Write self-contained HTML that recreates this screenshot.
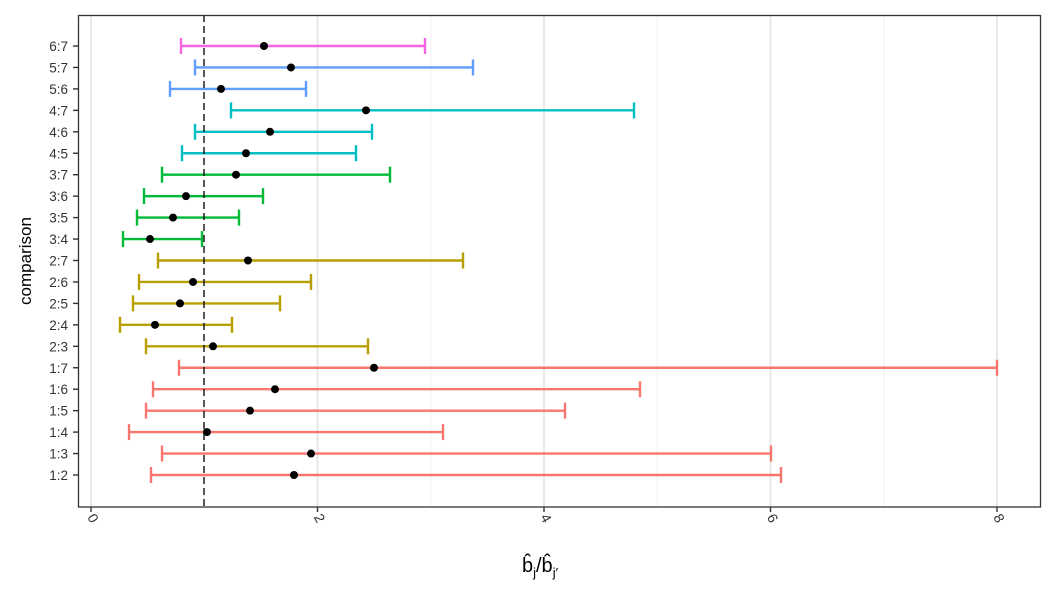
<!DOCTYPE html>
<html><head><meta charset="utf-8"><style>
body{margin:0;background:#fff;}
svg{display:block;font-family:"Liberation Sans",sans-serif;}
</style></head><body>
<svg width="1056" height="595" viewBox="0 0 1056 595" xmlns="http://www.w3.org/2000/svg">
<rect width="1056" height="595" fill="#fff"/>
<g id="grid"></g>
<g id="bars"></g>
<line x1="204" y1="15" x2="204" y2="507" stroke="#000" stroke-width="1.3" stroke-dasharray="7,4"/>
<g id="pts"></g>
<rect x="78.5" y="15.5" width="962" height="491.5" fill="none" stroke="#333" stroke-width="1.3"/>
<g id="ylab" font-size="13.5" fill="#333" text-anchor="end"></g>
<g id="xlab" font-size="14" fill="#333"></g>
<text x="0" y="0" font-size="17" fill="#000" text-anchor="middle" transform="translate(31,261) rotate(-90)">comparison</text>
<text x="540" y="572" font-size="20" fill="#000" text-anchor="middle">b̂<tspan font-size="13" dy="5">j</tspan><tspan dy="-5">/b̂</tspan><tspan font-size="13" dy="5">j′</tspan></text>
</svg>
<script>
const NS="http://www.w3.org/2000/svg";
function el(p,t,a,txt){const e=document.createElementNS(NS,t);for(const k in a)e.setAttribute(k,a[k]);if(txt)e.textContent=txt;document.getElementById(p).appendChild(e);}
const X=v=>91+v*113.25;
for(let v=0;v<=8;v++){el('grid','line',{x1:X(v),x2:X(v),y1:15,y2:507,stroke:v%2?'#f0f0f0':'#e3e3e3','stroke-width':v%2?1:1.6});}
for(let v=0;v<=8;v+=2){el('grid','line',{x1:X(v),x2:X(v),y1:507,y2:512,stroke:'#333','stroke-width':1.4});
 el('xlab','text',{transform:`translate(${X(v)-4},517) rotate(62)`},String(v));}
const C={1:'#F8766D',2:'#B79F00',3:'#00BA38',4:'#00BFC4',5:'#619CFF',6:'#F564E3'};
const D=[["6:7",181,264,425],["5:7",195,291,473],["5:6",170,221,306],["4:7",231,366,634],["4:6",195,270,372],["4:5",182,246,356],["3:7",162,236,390],["3:6",144,186,263],["3:5",137,173,239],["3:4",123,150,202],["2:7",158,248,463],["2:6",139,193,311],["2:5",133,180,280],["2:4",120,155,232],["2:3",146,213,368],["1:7",179,374,997],["1:6",153,275,640],["1:5",146,250,565],["1:4",129,207,443],["1:3",162,311,771],["1:2",151,294,781]];
D.forEach((d,i)=>{const y=46+i*21.45;const c=C[d[0][0]];
 el('bars','line',{x1:d[1],x2:d[3],y1:y,y2:y,stroke:c,'stroke-width':2.4});
 el('bars','line',{x1:d[1],x2:d[1],y1:y-8,y2:y+8,stroke:c,'stroke-width':2.4});
 el('bars','line',{x1:d[3],x2:d[3],y1:y-8,y2:y+8,stroke:c,'stroke-width':2.4});
 el('pts','circle',{cx:d[2],cy:y,r:4,fill:'#000'});
 el('grid','line',{x1:73,x2:78,y1:y,y2:y,stroke:'#333','stroke-width':1.4});
 el('ylab','text',{x:68,y:y+5},d[0]);});
</script>
</body></html>
